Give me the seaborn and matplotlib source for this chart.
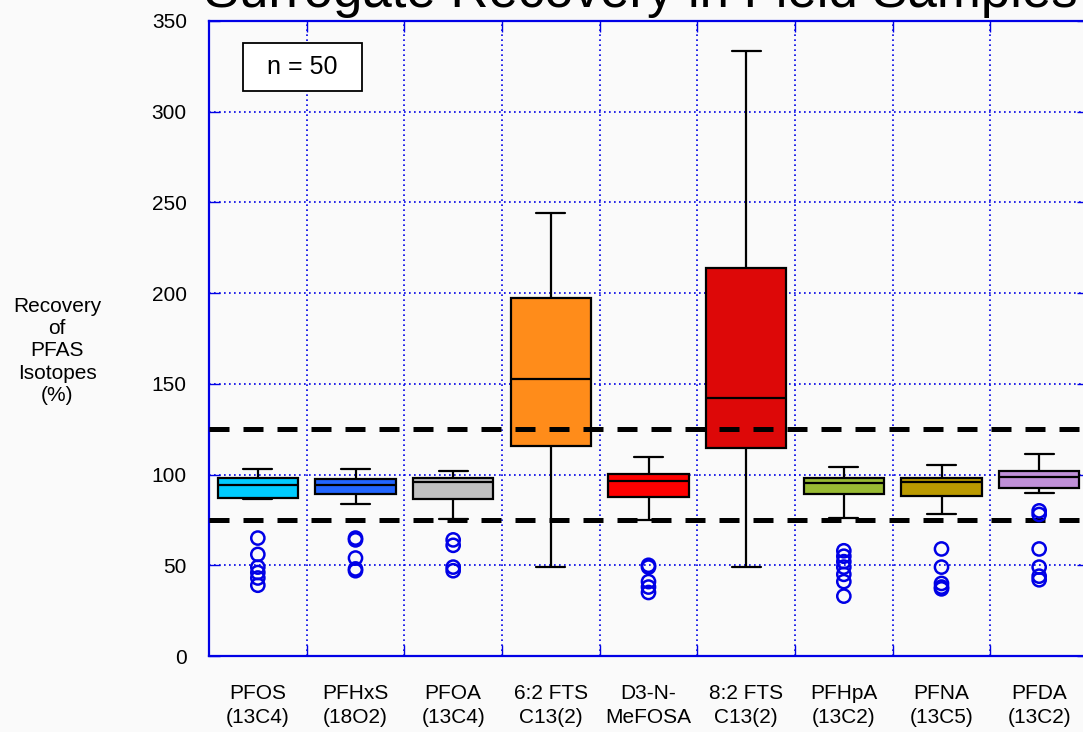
import numpy as np
import pandas as pd
import matplotlib
matplotlib.use("Agg")
import matplotlib.pyplot as plt
from matplotlib.patches import Rectangle
from matplotlib.ticker import FixedLocator
import seaborn as sns

# ---- data -------------------------------------------------------------
compounds = ["PFOS\n(13C4)", "PFHxS\n(18O2)", "PFOA\n(13C4)", "6:2 FTS\nC13(2)",
             "D3-N-\nMeFOSA", "8:2 FTS\nC13(2)", "PFHpA\n(13C2)", "PFNA\n(13C5)",
             "PFDA\n(13C2)"]

# five-number summaries of surrogate recovery (%) per compound
whisker_low = [86.5, 84.0, 75.5, 49.0, 75.0, 49.0, 76.0, 78.0, 90.0]
quartile_1 = [87.0, 89.3, 86.5, 115.8, 87.5, 114.8, 89.3, 88.2, 92.8]
medians = [94.0, 94.0, 95.7, 152.7, 96.5, 142.0, 95.6, 95.7, 98.5]
quartile_3 = [98.3, 97.4, 98.3, 197.5, 100.3, 213.9, 98.3, 98.3, 102.2]
whisker_high = [103.0, 103.0, 102.2, 244.0, 109.5, 333.5, 104.4, 105.5, 111.2]

# outlying recoveries per compound
outliers = {
    "PFOS\n(13C4)": [65, 56, 49, 46, 43, 39],
    "PFHxS\n(18O2)": [65, 64, 54, 48, 47],
    "PFOA\n(13C4)": [64, 61, 49, 47],
    "6:2 FTS\nC13(2)": [],
    "D3-N-\nMeFOSA": [50, 49, 41, 38, 35],
    "8:2 FTS\nC13(2)": [],
    "PFHpA\n(13C2)": [58, 55, 52, 49, 45, 41, 33],
    "PFNA\n(13C5)": [59, 49, 40, 38, 37],
    "PFDA\n(13C2)": [80, 78, 59, 49, 44, 42],
}

acceptance_limits = [75, 125]
sample_count = 50

box_colors = ["#00CCFF", "#2266FF", "#C0C0C0", "#FF8C1A", "#FF0000",
              "#DD0808", "#99BB33", "#BB9A00", "#C090D8"]

# ---- tables -----------------------------------------------------------
summary = pd.DataFrame({
    "compound": np.repeat(compounds, 5),
    "recovery": np.column_stack([whisker_low, quartile_1, medians,
                                 quartile_3, whisker_high]).ravel(),
})
flier_df = pd.DataFrame(
    [(c, v) for c in compounds for v in outliers[c]],
    columns=["compound", "recovery"],
)

# ---- style ------------------------------------------------------------
BG = "#FAFAFA"
BLUE = "#0000E6"
sns.set_theme(style="white")
plt.rcParams["font.family"] = ["Liberation Sans", "DejaVu Sans"]

W, H = 1083, 732
fig = plt.figure(figsize=(W / 100, H / 100), dpi=100, facecolor=BG)
ax = fig.add_axes([209 / W, 1 - 656 / H, (1088 - 209) / W, (656 - 21) / H])
ax.set_facecolor(BG)

sns.boxplot(data=summary, x="compound", y="recovery", order=compounds,
            hue="compound", hue_order=compounds, palette=box_colors,
            legend=False, saturation=1, width=0.82, whis=(0, 100),
            showfliers=False, linecolor="black", linewidth=1.6,
            capwidths=0.3, ax=ax)

sns.stripplot(data=flier_df, x="compound", y="recovery", order=compounds,
              jitter=False, size=9.5, color=BLUE, edgecolor=BLUE,
              linewidth=1.8, ax=ax)
for coll in ax.collections:
    coll.set_facecolor("none")
    coll.set_edgecolor(BLUE)
    coll.set_zorder(4)

for lim in acceptance_limits:
    ax.axhline(lim, color="black", linewidth=3.6, linestyle=(0, (4, 2.8)),
               zorder=3)

# ---- axes -------------------------------------------------------------
ax.set_xlim(-0.5, len(compounds) - 0.5)
ax.set_ylim(0, 350)
ax.set_yticks(np.arange(0, 351, 50))
ax.xaxis.set_minor_locator(FixedLocator(np.arange(0.5, len(compounds) - 0.5, 1)))
ax.set_xlabel("")
ax.set_ylabel("")

ax.tick_params(axis="x", which="major", length=0, pad=20, labelsize=15,
               labelcolor="black")
ax.tick_params(axis="x", which="minor", direction="in", length=8, width=1,
               color=BLUE, top=True, bottom=True)
ax.tick_params(axis="y", which="major", direction="in", length=8, width=1,
               color=BLUE, left=True, right=True, pad=16, labelsize=15,
               labelcolor="black")
for lbl in ax.get_xticklabels():
    lbl.set_linespacing(1.35)

ax.grid(False)
ax.xaxis.grid(True, which="minor", color=BLUE, linestyle=(0, (1, 2)),
              linewidth=1.2)
ax.yaxis.grid(True, which="major", color=BLUE, linestyle=(0, (1, 2)),
              linewidth=1.2)
ax.set_axisbelow(True)
for side in ax.spines.values():
    side.set_visible(True)
    side.set_color(BLUE)
    side.set_linewidth(1.6)

# ---- text -------------------------------------------------------------
fig.text(641 / W, 1 - 7 / H, "Surrogate Recovery in Field Samples",
         fontsize=38, ha="center", va="baseline", color="black")
fig.text(57 / W, 1 - 351 / H, "Recovery\nof\nPFAS\nIsotopes\n(%)",
         fontsize=15, ha="center", va="center", multialignment="center",
         linespacing=1.22, color="black")

fig.patches.append(Rectangle((243 / W, 1 - 91 / H), 119 / W, 48 / H,
                             transform=fig.transFigure, facecolor="white",
                             edgecolor="black", linewidth=1.3, zorder=5))
fig.text(302 / W, 1 - 67 / H, f"n = {sample_count}", fontsize=18,
         ha="center", va="center", color="black", zorder=6)

fig.savefig("out.png", dpi=100, facecolor=BG)
